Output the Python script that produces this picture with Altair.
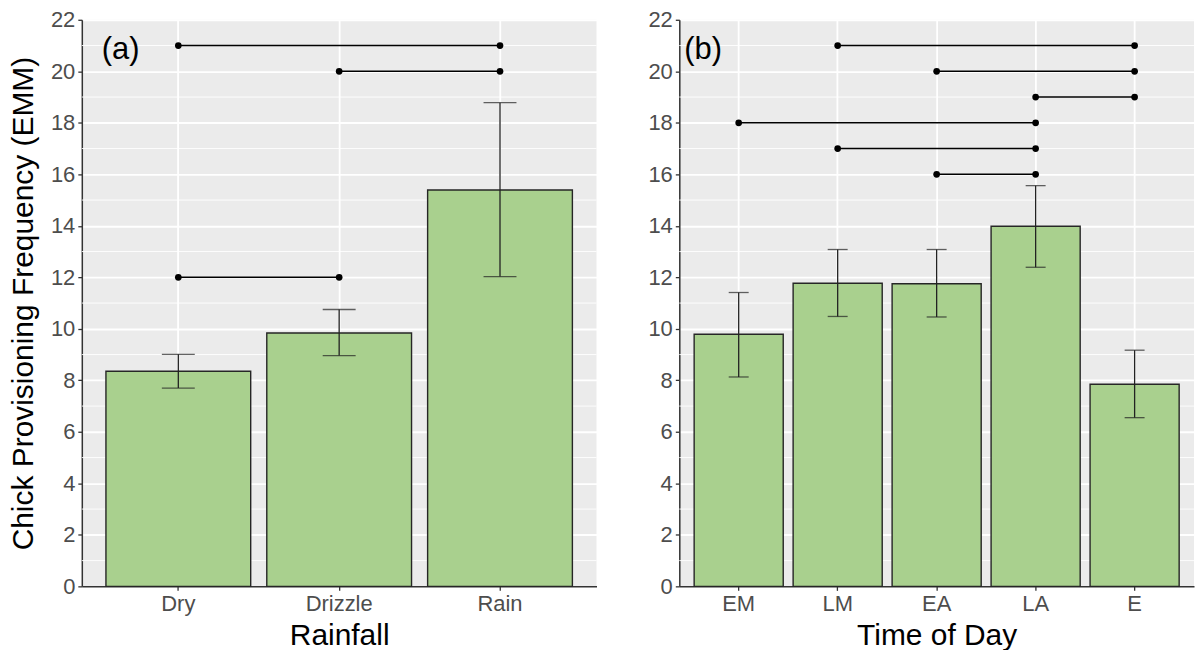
import altair as alt
import pandas as pd

# ---- data ----
rain_cats = ["Dry", "Drizzle", "Rain"]
rain_emm = [8.35, 9.84, 15.39]
rain_lo = [7.70, 8.96, 12.03]
rain_hi = [9.01, 10.75, 18.78]

tod_cats = ["EM", "LM", "EA", "LA", "E"]
tod_emm = [9.79, 11.77, 11.75, 13.98, 7.85]
tod_lo = [8.13, 10.48, 10.46, 12.39, 6.55]
tod_hi = [11.41, 13.08, 13.08, 15.56, 9.17]

rain_br_from = ["Dry", "Drizzle", "Dry"]
rain_br_to = ["Rain", "Rain", "Drizzle"]
rain_br_y = [21, 20, 12]

tod_br_from = ["LM", "EA", "LA", "EM", "LM", "EA"]
tod_br_to = ["E", "E", "E", "LA", "LA", "LA"]
tod_br_y = [21, 20, 19, 18, 17, 16]

y_ticks = list(range(0, 23, 2))
minor_ticks = list(range(1, 22, 2))

FONT = "Liberation Sans"
FILL = "#A9D08E"
W, H = 516, 568


def panel(cats, emm, lo, hi, bfrom, bto, by, xtitle, ytitle, tag, tag_x, cap):
    bars = pd.DataFrame({"cat": cats, "emm": emm, "lo": lo, "hi": hi})
    br = pd.DataFrame({"a": bfrom, "b": bto, "y": by})
    pts = pd.DataFrame({"cat": bfrom + bto, "y": by + by})
    minor = pd.DataFrame({"v": minor_ticks})
    tagdf = pd.DataFrame({"t": [tag], "y": [21]})

    xs = alt.Scale(domain=cats, paddingInner=0.1, paddingOuter=0.15)
    ys = alt.Scale(domain=[0, 22], nice=False, zero=True)
    xa = alt.Axis(title=xtitle, bandPosition=0.5, grid=True, labelAngle=0)
    if ytitle:
        ya = alt.Axis(title=ytitle, values=y_ticks, titlePadding=12)
    else:
        ya = alt.Axis(title=None, values=y_ticks)

    def X(f):
        return alt.X(f + ":N", scale=xs, axis=xa, sort=cats)

    def Y(f):
        return alt.Y(f + ":Q", scale=ys, axis=ya)

    l_minor = alt.Chart(minor).mark_rule(color="white", strokeWidth=0.9).encode(y=Y("v"))
    l_bar = alt.Chart(bars).mark_bar(fill=FILL, stroke="#262626", strokeWidth=1.4).encode(
        x=X("cat"), y=Y("emm"))
    l_err = alt.Chart(bars).mark_rule(color="#222222", strokeWidth=1.3).encode(
        x=X("cat"), y=Y("lo"), y2="hi:Q")
    l_cap_lo = alt.Chart(bars).mark_tick(color="#222222", thickness=1.3, size=cap).encode(
        x=X("cat"), y=Y("lo"))
    l_cap_hi = alt.Chart(bars).mark_tick(color="#222222", thickness=1.3, size=cap).encode(
        x=X("cat"), y=Y("hi"))
    l_br = alt.Chart(br).mark_rule(color="black", strokeWidth=1.4).encode(
        x=X("a"), x2="b:N", y=Y("y"))
    l_pts = alt.Chart(pts).mark_point(filled=True, color="black", size=45, opacity=1).encode(
        x=X("cat"), y=Y("y"))
    l_tag = alt.Chart(tagdf).mark_text(
        align="left", baseline="alphabetic", fontSize=31, font=FONT, color="black", dy=13
    ).encode(text="t:N", y=Y("y"), x=alt.value(tag_x))

    return alt.layer(l_minor, l_bar, l_err, l_cap_lo, l_cap_hi, l_br, l_pts, l_tag).properties(
        width=W, height=H)


left = panel(rain_cats, rain_emm, rain_lo, rain_hi, rain_br_from, rain_br_to, rain_br_y,
             "Rainfall", "Chick Provisioning Frequency (EMM)", "(a)", 20, 33)
right = panel(tod_cats, tod_emm, tod_lo, tod_hi, tod_br_from, tod_br_to, tod_br_y,
              "Time of Day", "", "(b)", 5, 20)

chart = alt.hconcat(left, right, spacing=50).properties(
    padding=0, background="white"
).configure_view(
    fill="#EBEBEB", stroke=None
).configure_axis(
    labelFont=FONT, labelFontSize=22, labelColor="#4D4D4D", labelPadding=3,
    titleFont=FONT, titleFontSize=30, titleColor="black", titleFontWeight="normal",
    domainColor="#333333", domainWidth=1.5, tickColor="#333333", tickSize=4, tickWidth=1.3,
    gridColor="white", gridWidth=1.8
).configure_axisX(
    titlePadding=6
)

chart.save("out.html", embed_options={"renderer": "svg", "actions": False})
